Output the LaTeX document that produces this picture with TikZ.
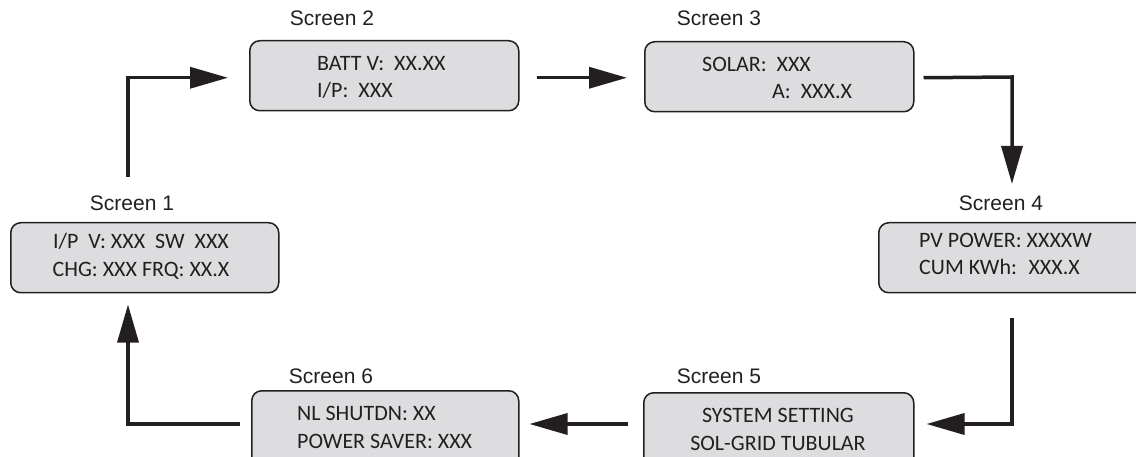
\documentclass[tikz,border=0pt]{standalone}
\usepackage{fontspec}
\setmainfont{Liberation Sans}
\newfontfamily\lcdfont{Carlito}
\usetikzlibrary{arrows.meta,calc}
\definecolor{ink}{RGB}{35,31,32}
\definecolor{panelfill}{RGB}{221,221,223}
\tikzset{
  panel/.style={draw=ink, line width=1.5pt, fill=panelfill, rounded corners=10pt,
    inner sep=0pt, anchor=north west},
  lbl/.style={text=ink, inner sep=0pt, anchor=base, font=\fontsize{21}{25}\selectfont},
  lcd/.style={text=ink, inner sep=0pt, font=\lcdfont\fontsize{22}{26}\selectfont},
  flow/.style={draw=ink, line width=3.5pt, -{Triangle[length=38pt,width=21pt]}}
}
\begin{document}
\begin{tikzpicture}[x=1pt,y=-1pt]
\useasboundingbox (0,0) rectangle (1136,457);
\clip (0,0) rectangle (1136,457);

% display panels
\node[panel, minimum width=268pt, minimum height=70pt] (b1) at (10,222) {};
\node[panel, minimum width=269pt, minimum height=70pt] (b2) at (249,40) {};
\node[panel, minimum width=269pt, minimum height=70pt] (b3) at (644,41) {};
\node[panel, minimum width=280pt, minimum height=70pt] (b4) at (878,222) {};
\node[panel, minimum width=270pt, minimum height=90pt] (b5) at (643,392) {};
\node[panel, minimum width=267pt, minimum height=90pt] (b6) at (251,390) {};

% screen titles
\node[lbl] (l1) at (132,211) {Screen 1};
\node[lbl] (l2) at (332,26) {Screen 2};
\node[lbl] (l3) at (719,26) {Screen 3};
\node[lbl] (l4) at (1001,211) {Screen 4};
\node[lbl] (l5) at (719,383) {Screen 5};
\node[lbl] (l6) at (331,383) {Screen 6};

% panel readouts
\node[lcd, anchor=base] (t1a) at (141,249) {I/P~ V: XXX~ SW~ XXX};
\node[lcd, anchor=base] (t1b) at (141,277) {CHG: XXX FRQ: XX.X};
\node[lcd, anchor=base west] (t2a) at (317,71) {BATT V:~ XX.XX};
\node[lcd, anchor=base west] (t2b) at (317,98) {I/P:~ XXX};
\node[lcd, anchor=base west] (t3a) at (702,72) {SOLAR:~ XXX};
\node[lcd, anchor=base west] (t3b) at (772,99) {A:~ XXX.X};
\node[lcd, anchor=base west] (t4a) at (919,248) {PV POWER: XXXXW};
\node[lcd, anchor=base west] (t4b) at (919,275) {CUM KWh:~ XXX.X};
\node[lcd, anchor=base] (t5a) at (778,422) {SYSTEM SETTING};
\node[lcd, anchor=base] (t5b) at (778,450) {SOL-GRID TUBULAR};
\node[lcd, anchor=base west] (t6a) at (297,420) {NL SHUTDN: XX};
\node[lcd, anchor=base west] (t6b) at (297,448) {POWER SAVER: XXX};

% cycle of screens
\coordinate (s1) at (128,177);
\coordinate (k3) at (1012,77);
\coordinate (s4) at (1012,318);
\coordinate (k4) at (1012,424);
\coordinate (k6) at (128,424);

\draw[flow] (s1) |- ($(b2.west)+(-21,2)$);
\draw[flow] ($(b2.east)+(17,2)$) -- ($(b3.west)+(-17,1)$);
\draw[flow] ($(b3.east)+(9,1)$) -- (k3) -- ($(k3 |- b4.north)+(0,-38)$);
\draw[flow] (s4) -- (k4) -- ($(k4 -| b5.east)+(12,0)$);
\draw[flow] ($(k4 -| b5.west)+(-15,0)$) -- ($(k4 -| b6.east)+(10,0)$);
\draw[flow] ($(k6 -| b6.west)+(-11,0)$) -- (k6) -- ($(k6 |- b1.south)+(0,11)$);
\end{tikzpicture}
\end{document}
